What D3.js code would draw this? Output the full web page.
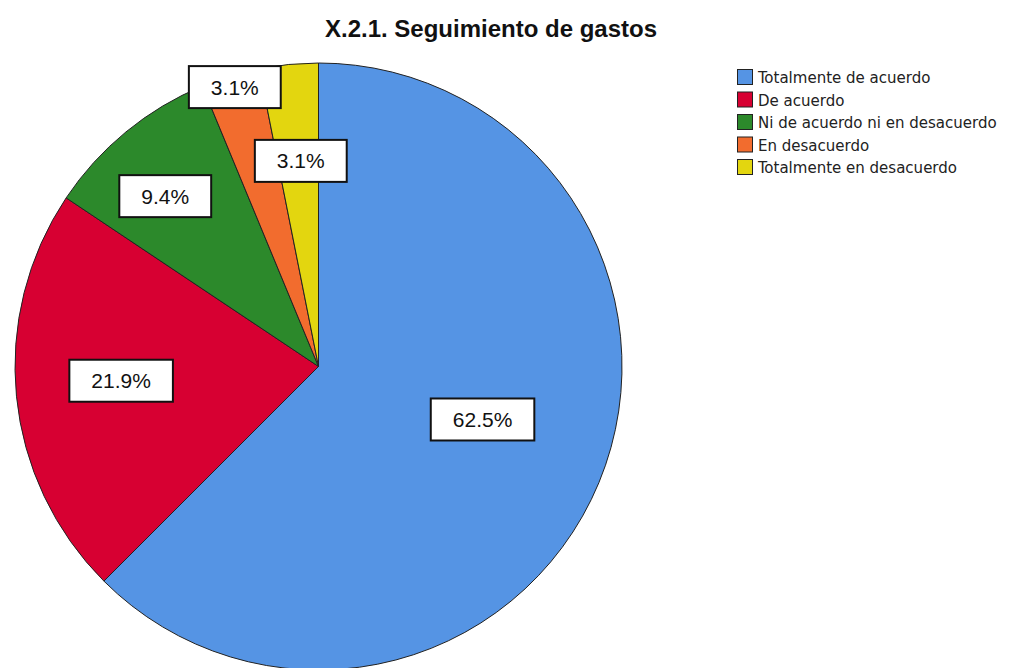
<!DOCTYPE html>
<html>
<head>
<meta charset="utf-8">
<script src="https://cdn.jsdelivr.net/npm/d3@7"></script>
<style>
    body { margin: 0; background: #fff; }
    svg { display: block; }
</style>
</head>
<body>
<svg id="chart" width="1012" height="668"></svg>
<script>
const categories = ["Totalmente de acuerdo", "De acuerdo", "Ni de acuerdo ni en desacuerdo", "En desacuerdo", "Totalmente en desacuerdo"];
const percents = [62.5, 21.875, 9.375, 3.125, 3.125];
const labels = ["62.5%", "21.9%", "9.4%", "3.1%", "3.1%"];
const colors = ["#5594E4", "#D70032", "#2C892B", "#F26C2E", "#E3D60F"];
// where SPSS put each label: fraction of radius and angle shift (deg) from the slice middle
const labelRadius = [0.568, 0.652, 0.755, 0.961, 0.68];
const labelShift = [-4.6, 1.5, -2.6, 0.2, 0.7];

const svg = d3.select("#chart");

const cx = 318.5, cy = 366.5, radius = 303.5;

svg.append("text")
    .attr("x", 491)
    .attr("y", 37)
    .attr("text-anchor", "middle")
    .attr("font-family", "Liberation Sans, Arial, sans-serif")
    .attr("font-weight", "bold")
    .attr("font-size", 24)
    .attr("fill", "#111")
    .text("X.2.1. Seguimiento de gastos");

const data = categories.map((c, i) => ({
    name: c, value: percents[i], label: labels[i], color: colors[i],
    lr: labelRadius[i], shift: labelShift[i]
}));

const pie = d3.pie().sort(null).value(d => d.value);
const arc = d3.arc().innerRadius(0).outerRadius(radius);
const arcs = pie(data);

const g = svg.append("g").attr("transform", `translate(${cx},${cy})`);

g.selectAll("path").data(arcs)
    .enter()
    .append("path")
    .attr("d", arc)
    .attr("fill", d => d.data.color)
    .attr("stroke", "#222")
    .attr("stroke-width", 1);

const labelG = g.selectAll(".lbl").data(arcs)
    .enter()
    .append("g")
    .attr("class", "lbl")
    .attr("transform", d => {
        const a = (d.startAngle + d.endAngle) / 2 + d.data.shift * Math.PI / 180;
        const r = radius * d.data.lr;
        return `translate(${r * Math.sin(a)},${-r * Math.cos(a)})`;
    });

labelG.append("text")
    .attr("text-anchor", "middle")
    .attr("dy", "0.36em")
    .attr("font-family", "Liberation Sans, Arial, sans-serif")
    .attr("font-size", 21)
    .attr("fill", "#111")
    .text(d => d.data.label);

labelG.each(function () {
    const grp = d3.select(this);
    const bb = grp.select("text").node().getBBox();
    const padX = 22;
    grp.insert("rect", "text")
        .attr("x", bb.x - padX)
        .attr("y", -21)
        .attr("width", bb.width + padX * 2)
        .attr("height", 42)
        .attr("fill", "#fff")
        .attr("stroke", "#111")
        .attr("stroke-width", 2);
});

const legend = svg.append("g").attr("transform", "translate(737,69)");
const rowH = 22.5;

const rows = legend.selectAll("g").data(data)
    .enter()
    .append("g")
    .attr("transform", (d, i) => `translate(0,${i * rowH})`);

rows.append("rect")
    .attr("x", 0.5)
    .attr("y", 0.5)
    .attr("width", 15)
    .attr("height", 15)
    .attr("fill", d => d.color)
    .attr("stroke", "#222")
    .attr("stroke-width", 1);

rows.append("text")
    .attr("x", 21)
    .attr("y", 8)
    .attr("dy", "0.36em")
    .attr("font-family", "DejaVu Sans Condensed, DejaVu Sans, sans-serif")
    .attr("font-stretch", "condensed")
    .attr("font-size", 16.7)
    .attr("fill", "#222")
    .text(d => d.name);
</script>
</body>
</html>
